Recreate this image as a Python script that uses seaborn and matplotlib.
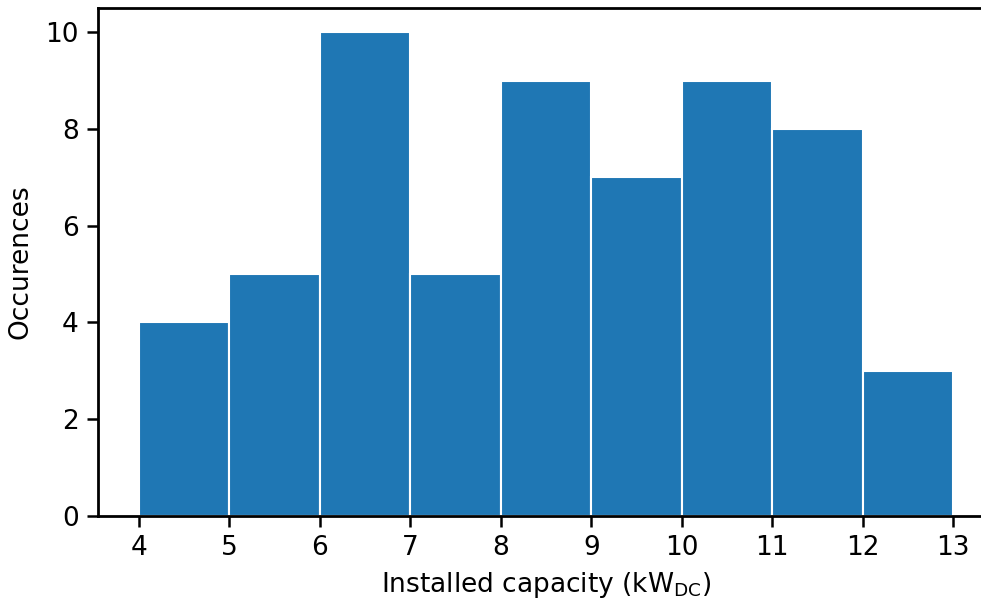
import matplotlib
matplotlib.use("Agg")
import matplotlib.pyplot as plt
import seaborn as sns
import numpy as np

bin_edges = [4, 5, 6, 7, 8, 9, 10, 11, 12, 13]
counts = [4, 5, 10, 5, 9, 7, 9, 8, 3]
x_ticks = [4, 5, 6, 7, 8, 9, 10, 11, 12, 13]
y_ticks = [0, 2, 4, 6, 8, 10]

centers = [(a + b) / 2 for a, b in zip(bin_edges[:-1], bin_edges[1:])]

plt.rcParams['font.family'] = ['DejaVu Sans']
fig = plt.figure(figsize=(9.81, 6.02), dpi=100)
x_left, x_right = 3.55, 13.45
px_per_unit = (994 - 98) / (x_right - x_left)
vis_right = x_left + (981 - 98) / px_per_unit
ax = fig.add_axes([98 / 981, 1 - 516 / 602, (981 - 98) / 981, (516 - 8) / 602])

sns.histplot(x=centers, weights=counts, bins=bin_edges, ax=ax,
             color='#1f77b4', alpha=1, edgecolor='white', linewidth=1.5)

ax.set_xlim(x_left, vis_right)
ax.set_ylim(0, 10.5)
ax.set_xticks(x_ticks)
ax.set_yticks(y_ticks)
ax.tick_params(labelsize=19, width=1.8, length=8, pad=6)
ax.set_xlabel(r'Installed capacity (kW$_{\mathrm{DC}}$)', fontsize=19)
ax.xaxis.set_label_coords((546 - 98) / (981 - 98), -0.106)
ax.set_ylabel('Occurences', fontsize=19, labelpad=8)
for s in ax.spines.values():
    s.set_linewidth(2)
ax.spines['right'].set_visible(False)

fig.savefig('out.png', dpi=100)
